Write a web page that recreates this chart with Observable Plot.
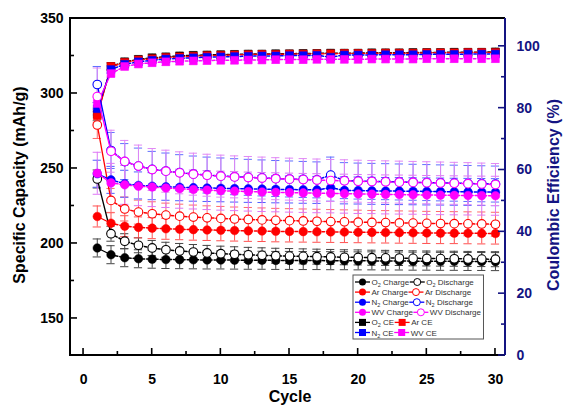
<!DOCTYPE html>
<html><head><meta charset="utf-8">
<script src="https://cdn.jsdelivr.net/npm/d3@7"></script>
<script src="https://cdn.jsdelivr.net/npm/@observablehq/plot@0.6"></script>
<style>body{margin:0;background:#fff} svg{display:block}</style>
</head><body><div id="chart"></div>
<script>
// ---- data ----
const cycles = d3.range(1, 31);
const xTicks = [0, 5, 10, 15, 20, 25, 30];
const leftTicks = [150, 200, 250, 300, 350];
const rightTicks = [0, 20, 40, 60, 80, 100];

const o2Charge    = [197,192.5,190.5,189.8,189.5,189.3,189.2,189.1,189,189,188.9,188.8,188.8,188.7,188.7,188.6,188.6,188.5,188.5,188.4,188.4,188.3,188.3,188.2,188.2,188.1,188.1,188,188,187.9];
const o2Discharge = [243,206.5,201.5,198.8,197,195.8,195,194.3,193.7,193.2,192.8,192.4,192.1,191.8,191.6,191.4,191.2,191,190.8,190.7,190.5,190.4,190.3,190.1,190,189.9,189.8,189.7,189.6,189.5];
const arCharge    = [218,213.5,211.5,210.7,210.2,209.8,209.5,209.2,209,208.8,208.6,208.4,208.3,208.1,208,207.9,207.8,207.7,207.6,207.5,207.4,207.3,207.2,207.1,207,206.9,206.9,206.8,206.7,206.6];
const arDischarge = [279,228.7,223,220.9,219.8,218.9,218.2,217.6,217.1,216.7,216.3,216,215.7,215.4,215.2,215,214.8,214.6,214.4,214.2,214,213.9,213.7,213.6,213.4,213.3,213.2,213.1,213,212.8];
const n2Charge    = [246.5,242.4,239.8,238.7,238.2,237.8,237.5,237.2,237,236.8,236.6,236.4,236.3,236.1,236,235.8,235.7,237.2,235.4,235.3,235.1,235,234.9,234.8,234.7,234.6,234.5,234.4,234.3,234.2];
const n2Discharge = [306,262,254.6,251.6,249.4,248.3,247.2,246.3,245.6,245,244.5,244.1,243.7,243.3,243,242.7,242.4,245.6,241.9,241.6,241.4,241.2,241,240.8,240.6,240.4,240.2,240,239.8,239.6];
const wvCharge    = [246.8,240.4,239.1,238.2,237.6,237,236.5,236,235.6,235.2,234.9,234.6,234.3,234.1,233.9,233.7,233.5,233.4,233.2,233,232.9,232.7,232.6,232.5,232.3,232.2,232.1,232,231.9,231.8];
const wvDischarge = [298,261.5,254.7,251.6,249.3,248.2,247.1,246.2,245.5,244.9,244.4,244,243.6,243.2,242.9,242.6,242.3,242,241.8,241.5,241.3,241.1,240.9,240.7,240.5,240.3,240.1,239.9,239.6,239.3];
const o2CE = [78,93.5,95,95.8,96.3,96.6,96.9,97.1,97.2,97.3,97.4,97.5,97.5,97.6,97.6,97.7,97.7,97.8,97.8,97.8,97.9,97.9,97.9,98,98,98,98.1,98.1,98.1,98.2];
const arCE = [77.5,93.5,94.8,95.6,96,96.4,96.6,96.8,97,97.1,97.2,97.3,97.4,97.4,97.5,97.5,97.6,97.6,97.7,97.7,97.7,97.8,97.8,97.8,97.9,97.9,97.9,98,98,98];
const n2CE = [79.8,92.5,94.2,95,95.5,95.9,96.1,96.3,96.5,96.6,96.7,96.8,96.9,96.9,97,97,97.1,96.5,97.2,97.2,97.2,97.3,97.3,97.3,97.4,97.4,97.4,97.5,97.5,97.5];
const wvCE = [81.5,91.2,93.5,94.3,94.7,95,95.2,95.3,95.4,95.5,95.5,95.6,95.6,95.7,95.7,95.7,95.8,95.8,95.8,95.8,95.9,95.9,95.9,95.9,96,96,96,96,96,96];
// error half-widths: [first cycle, later cycles]
const o2ChargeErr = [6, 6], o2DischargeErr = [6, 5];
const arChargeErr = [7, 7], arDischargeErr = [9, 8];
const n2ChargeErr = [9, 9], n2DischargeErr = [12, 12];
const wvChargeErr = [14, 13], wvDischargeErr = [19, 14];
const ceErr = [2, 1.2];

// ---- styles ----
const navy = "#141482";
const series = [
  {name:"O_2 Charge",    v:o2Charge,    err:o2ChargeErr,    color:"#000", eb:"#444", shape:"filled"},
  {name:"O_2 Discharge", v:o2Discharge, err:o2DischargeErr, color:"#000", eb:"#444", shape:"open"},
  {name:"Ar Charge",     v:arCharge,    err:arChargeErr,    color:"#ff0000", eb:"#ff5050", shape:"filled"},
  {name:"Ar Discharge",  v:arDischarge, err:arDischargeErr, color:"#ff0000", eb:"#ff6a6a", shape:"open"},
  {name:"N_2 Charge",    v:n2Charge,    err:n2ChargeErr,    color:"#0000ff", eb:"#5060ff", shape:"filled"},
  {name:"N_2 Discharge", v:n2Discharge, err:n2DischargeErr, color:"#0000ff", eb:"#6070ff", shape:"open"},
  {name:"WV Charge",     v:wvCharge,    err:wvChargeErr,    color:"#ff00ff", eb:"#dd77f5", shape:"filled"},
  {name:"WV Discharge",  v:wvDischarge, err:wvDischargeErr, color:"#ff00ff", eb:"#e088f5", shape:"open"},
  {name:"O_2 CE", v:o2CE, err:ceErr, color:"#000", eb:"#888", shape:"square", ce:true},
  {name:"Ar CE",  v:arCE, err:ceErr, color:"#ff0000", eb:"#ff8080", shape:"square", ce:true},
  {name:"N_2 CE", v:n2CE, err:ceErr, color:"#0000ff", eb:"#8080ff", shape:"square", ce:true},
  {name:"WV CE",  v:wvCE, err:ceErr, color:"#ff00ff", eb:"#f090f0", shape:"square", ce:true}
];

const yLeft = [125.3, 350];
const yRight = [0, 109];
const ceToLeft = d3.scaleLinear(yRight, yLeft);

const rows = [];
series.forEach((s, si) => {
  s.v.forEach((val, i) => {
    const e = i === 0 ? s.err[0] : s.err[1];
    const y = s.ce ? ceToLeft(val) : val;
    const ey = s.ce ? (ceToLeft(val + e) - ceToLeft(val)) : e;
    rows.push({cycle: cycles[i], y, lo: y - ey, hi: y + ey, s: si});
  });
});

const capW = 0.3;
const marks = [];
series.forEach((s, si) => {
  const d = rows.filter(r => r.s === si);
  marks.push(Plot.ruleX(d, {x:"cycle", y1:"lo", y2:"hi", stroke:s.eb, strokeWidth:1}));
  marks.push(Plot.ruleY(d, {y:"hi", x1:r=>r.cycle-capW, x2:r=>r.cycle+capW, stroke:s.eb, strokeWidth:1}));
  marks.push(Plot.ruleY(d, {y:"lo", x1:r=>r.cycle-capW, x2:r=>r.cycle+capW, stroke:s.eb, strokeWidth:1}));
});
const order = [8,9,10,11,0,1,2,3,4,5,6,7];
order.forEach(si => {
  const s = series[si];
  const d = rows.filter(r => r.s === si);
  marks.push(Plot.line(d.filter(r => r.cycle <= 2), {x:"cycle", y:"y", stroke:s.color, strokeWidth:1.3}));
  marks.push(Plot.line(d.filter(r => r.cycle >= 2), {x:"cycle", y:"y", stroke:s.color, strokeWidth:1.5, strokeDasharray:"2.5,2"}));
  if (s.shape === "filled") marks.push(Plot.dot(d, {x:"cycle", y:"y", r:4.3, fill:s.color, stroke:s.color, strokeWidth:0.5}));
  else if (s.shape === "open") marks.push(Plot.dot(d, {x:"cycle", y:"y", r:4.3, fill:"white", stroke:s.color, strokeWidth:1.1}));
  else marks.push(Plot.dot(d, {x:"cycle", y:"y", r:4.4, symbol:"square", fill:s.color, stroke:s.color, strokeWidth:0.5}));
});

const font = "'Liberation Sans', Arial, sans-serif";
marks.push(Plot.axisX(xTicks, {tickSize:0, tickPadding:19, fontSize:14, fontWeight:"bold", fill:"#000", label:null}));
marks.push(Plot.axisY(leftTicks, {anchor:"left", tickSize:0, tickPadding:7, fontSize:14, fontWeight:"bold", fill:"#000", label:null}));
marks.push(Plot.axisY(rightTicks.map(ceToLeft), {anchor:"right", tickSize:0, tickPadding:11, fontSize:14, fontWeight:"bold", fill:navy, label:null, tickFormat:d=>String(Math.round(ceToLeft.invert(d)))}));

const plot = Plot.plot({
  width:566, height:406,
  marginLeft:70, marginRight:61, marginTop:18, marginBottom:51,
  x:{domain:[-0.95, 30.73]},
  y:{domain:yLeft},
  style:{fontFamily:font, background:"white", overflow:"visible"},
  marks
});
document.getElementById("chart").appendChild(plot);

// ---- frame, ticks, titles, legend ----
const sx = plot.scale("x"), sy = plot.scale("y");
const svg = d3.select(plot);
const L = 70, R = 505, T = 18, B = 355;
const g = svg.append("g");
g.append("path").attr("d", `M${R},${T}H${L}V${B}H${R}`).attr("fill","none").attr("stroke","#000").attr("stroke-width",2);
g.append("path").attr("d", `M${R},${T}V${B}`).attr("fill","none").attr("stroke",navy).attr("stroke-width",2);
const tick = (x1,y1,x2,y2,c) => g.append("line").attr("x1",x1).attr("y1",y1).attr("x2",x2).attr("y2",y2).attr("stroke",c).attr("stroke-width",1.6);
for (let v = 0; v <= 30; v += 2.5) { const x = sx.apply(v); tick(x, B, x, B - (v % 5 === 0 ? 7 : 4), "#000"); }
for (let v = 150; v <= 350; v += 25) { const y = sy.apply(v); tick(L, y, L + (v % 50 === 0 ? 7 : 4), y, "#000"); }
for (let v = 0; v <= 100; v += 10) { const y = sy.apply(ceToLeft(v)); tick(R, y, R - (v % 20 === 0 ? 7 : 4), y, navy); }

const title = (txt, x, y, rot, c) => g.append("text").attr("transform", `translate(${x},${y}) rotate(${rot})`)
  .attr("text-anchor","middle").attr("dominant-baseline","middle").attr("font-family",font)
  .attr("font-weight","bold").attr("font-size",16).attr("fill",c).text(txt);
title("Specific Capacity (mAh/g)", 21, 185, -90, "#000");
title("Coulombic Efficiency (%)", 555, 195, -90, navy);
title("Cycle", 290, 398, 0, "#000");

// legend
const lg = g.append("g").attr("text-anchor","start");
const box = lg.append("rect").attr("x",353).attr("y",275).attr("width",130).attr("height",64).attr("fill","white").attr("stroke","#555").attr("stroke-width",1);
const legendRows = [[0,1],[2,3],[4,5],[6,7],[8,9],[10,11]];
let maxX = 0;
legendRows.forEach((row, ri) => {
  let x = 355;
  const y = 282 + ri * 10.1;
  row.forEach(si => {
    const s = series[si];
    lg.append("line").attr("x1",x).attr("x2",x+15).attr("y1",y).attr("y2",y).attr("stroke",s.color).attr("stroke-width",1.3);
    const cx = x + 7.5;
    if (s.shape === "filled") lg.append("circle").attr("cx",cx).attr("cy",y).attr("r",3.5).attr("fill",s.color);
    else if (s.shape === "open") lg.append("circle").attr("cx",cx).attr("cy",y).attr("r",3.5).attr("fill","white").attr("stroke",s.color).attr("stroke-width",1);
    else lg.append("rect").attr("x",cx-3.5).attr("y",y-3.5).attr("width",7).attr("height",7).attr("fill",s.color);
    const t = lg.append("text").attr("x", x + 16.5).attr("y", y + 3).attr("text-anchor","start").attr("font-family",font).attr("font-size",8).attr("fill","#333");
    const parts = s.name.split("_");
    t.append("tspan").text(parts[0]);
    if (parts.length > 1) {
      t.append("tspan").attr("font-size",5.5).attr("dy",2).text(parts[1][0]);
      t.append("tspan").attr("dy",-2).text(parts[1].slice(1));
    }
    x = x + 16.5 + t.node().getComputedTextLength() + 0.5;
    maxX = Math.max(maxX, x);
  });
});
box.attr("width", maxX + 2 - 353);
</script>
</body></html>
